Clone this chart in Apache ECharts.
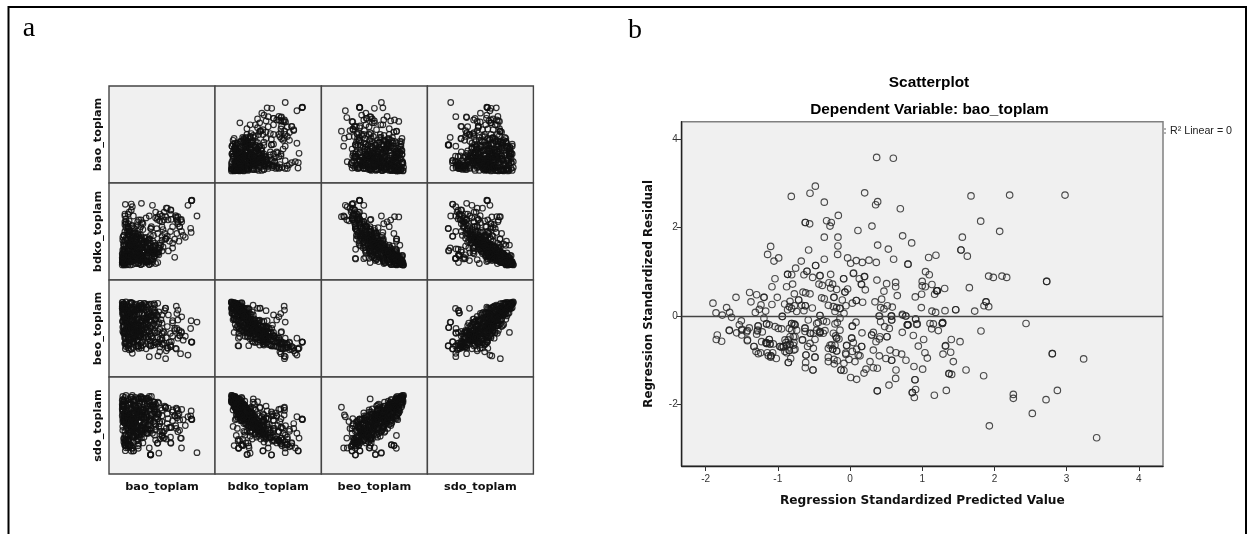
<!DOCTYPE html>
<html><head><meta charset="utf-8">
<style>html,body{margin:0;padding:0;background:#fff}#c{width:1253px;height:534px}</style>
<script src="https://cdn.jsdelivr.net/npm/echarts@6/dist/echarts.min.js"></script>
</head><body><div id="c"></div>
<script>
const variableNames = ['bao_toplam','bdko_toplam','beo_toplam','sdo_toplam'];
const bao = [
83,78,77.7,78.2,74.5,67.5,68.4,66.6,64,65,
65,63.5,50,53.4,46.2,47.8,62.9,55.7,66.7,58.8,
68.2,52.5,33.6,43,21,21,21.2,13,30.5,41.5,
53.2,53.4,21,15.4,22,39.3,39.5,27.4,27.6,17.9,
18.2,58.2,58.4,45.6,63.5,65,30.6,41,38,18,
16,15,18,39,39.3,47,23,23.2,20,20.2,
22,18,18.2,16,28,77,77.5,68.6,62,35.5,
42.6,33.3,55,58,60,62,50,56,60,64,
48,52,58,70,66,72,44,50,55,60,
14,24,13,33,19,28,12.5,37,16,26,13,21,30,15,40,23,12.5,18,31,14,22,13,27,17,35,20,14,25,12.5,29,
13,19,27,15,35,22,16,43,14,30,20,13,26,38,17,12.5,24,32,18,21,15,29,16,23,41,14,19,25,13,33,
17,23,14,31,46,20,13,36,26,18,15,40,21,28,14,49,24,19,33,13,22,16,38,27,18,44,14,30,20,25,
16,28,21,13,37,24,18,47,32,14,26,17,42,20,13,35,23,30,15,50,19,39,14,27,22,16,33,25,44,18,
20,32,15,26,14,41,23,18,48,29,14,36,21,27,17,45,13,31,24,38,18,30,14,43,22,35,16,25,51,19,
17,29,22,39,15,50,26,19,34,14,24,43,18,31,14,37,21,52,28,16,32,20,46,15,25,40,18,30,23,14,
21,35,16,27,48,15,40,23,30,54,18,32,25,44,15,37,20,29,51,22,33,16,26,46,19,39,24,31,15,42,
24,38,18,30,50,21,57,27,35,17,43,23,32,19,47,28,39,16,54,26,
24,18,31,15,27,36,20,14,33,22,29,16,38,25,13,34,19,42,23,28,17,32,21,14,37,26,15,30,44,19,35,23,13,28,18,40,25,16,31,21,
26,38,22,44,30,35,24,41,28,33,36,23,43,31,27,39,21,46,34,29,25,37,42,32,20,45,28,35,23,40,30,47,26,38,22,34,43,29,36,24];
const bdko = [
66,82,81.8,82.2,77,62,50,55,61.8,65.3,
58,65,55,65.3,65,61,66.3,62,55,62.5,
62.5,48,25.4,35.8,25,18.5,19,18,24,40,
42,42.5,78.3,78,75.5,53,53.2,31.7,22.3,23.2,
21.7,72,72.2,62.5,63.6,60,79,77,66,32,
22.3,18,22,30,30.5,33,45,45.2,25,25,
22,26,26.2,20,36,53.3,49,60,23.4,18,
24,20,45,50,38,42,60,30,55,48,
68,70,68,46,40,44,70,66,74,33,
16,24,18,30,21,17,27,19,15.5,32,20,26,16,23,17,29,15.5,21,25,18,16,22,28,25,19,15.5,31,17,23,20,
22,31,17,27,19,36,18,25,29,16,33,21,26,16,24,18,35,17,30,20,16,28,23,34,19,15.5,32,24,27,21,
20,34,17,40,27,37,18,31,42,16,30,22,41,18,25,36,21,19,28,44,38,26,16,33,23,29,19,46,24,35,
26,20,43,31,38,22,47,29,36,18,45,24,34,49,21,40,27,33,19,41,48,20,37,28,44,25,39,23,17,46,
35,24,50,29,46,21,41,54,33,52,26,44,19,48,31,53,22,38,27,42,55,23,36,30,47,20,43,28,34,51,
32,27,56,38,60,30,24,52,43,35,49,28,58,34,46,41,36,62,25,54,37,50,29,57,33,55,26,44,48,31,
40,34,60,47,38,66,30,54,62,43,50,58,36,64,68,33,45,28,52,56,39,63,42,48,61,35,53,59,31,46,
48,42,68,55,45,72,40,60,64,50,38,66,52,70,36,62,46,58,74,56,
28,35,22,41,31,26,38,24,44,33,21,36,29,43,25,34,40,27,23,37,42,30,24,39,28,45,32,20,35,26,33,25,41,22,37,29,44,31,19,36,
24,30,37,27,41,33,20,35,46,29,22,39,31,26,44,28,36,18,33,42,25,38,30,21,47,27,34,40,23,32,43,26,35,19,38,30,24,41,28,36];
const beo = [
56.6,36,36.3,35.8,22.6,24,45.6,42.4,65.4,69,
58.8,73,64,18.9,21.7,26,29.6,29.6,43,36.4,
46.7,68.4,76,74,76.6,76,76.2,75,74,70.8,
70.8,71,28.9,29,24.4,32,32.2,32.3,32,41.6,
32.3,31.4,31.4,34,28.9,40,30,40,21,50,
45,46,40,51,51,56.4,36.4,36.2,66,66.2,
70.7,68.4,68.6,70.8,46,50,58,62,50,60,
75.5,75.5,52,45,56,48,38,64,42,50,
31,35,33,38,48,42,36,40,30,58,
75,72,77,70.5,76,73,71,74,77.5,70,74,71,76,72.5,75,70,77,73.5,71.5,75.5,76.5,73,70.5,72,74.5,77,71,75,73,76,
68,65,71,66,69,64,70,67,66.5,71.5,65,69.5,64.5,68.5,66,71,67,70,64,69,70.5,66.5,68,64,67.5,71,65.5,69,66,63.5,
62,59,65,58,63,60,64,61,58.5,66,60,63.5,58,65,61.5,59,62.5,64.5,60.5,57,58,61,65.5,59.5,63,60,64,57.5,62,59,
56,59,53,57,54,58,52,55,53.5,59.5,52.5,57.5,55,51.5,58,54.5,56.5,53,59,55.5,52,58.5,54,56,51,57,53,55,59,52,
51,53,47,50,46,52,48.5,53.5,49,46.5,52,48,54,47,50.5,45.5,51.5,49.5,53,47.5,46,50,52.5,48,45,51,49,53,47,50,
46,47,42,44,40,45,47.5,41,43,46.5,42.5,45.5,40.5,47,44.5,41.5,43.5,46,48,39.5,44,41,47,40,45,42,48,43,39,46,
40,41,36,38,39,35,41.5,37,34.5,40.5,38.5,36.5,41,35.5,34,39.5,37.5,42,33.5,36,40,35,38,41,34,37,39,36,42,33,
35,33,30,32,34,28.5,36,31,29,33.5,35.5,30.5,33,28,36,29.5,34.5,31.5,27,32,
64,55,71,48,60,67,52,73,46,58,69,54,62,47,66,56,50,63,70,53,49,61,68,51,65,45,57,72,53,64,59,66,47,70,55,62,46,60,74,52,
70,62,51,66,45,57,74,54,42,60,72,47,59,65,43,63,50,76,55,44,68,48,61,73,40,64,52,46,71,58,41,67,53,75,49,60,69,44,63,56];
const sdo = [
22,56.5,56.7,56,59,37,26.8,45,67,65.5,
60,68,60,68.8,60.8,54,49.8,57,55.7,48,
36.8,70,78,74,79,77,79.3,77,77,74.6,
68.4,68.6,23.7,24,26.8,19.6,19.8,29,26.5,34.4,
34.2,32.3,31.6,31.6,47,43.6,37,42,26.8,27,
27,29.3,35.6,20,20.2,21.5,23.7,24,30,30.2,
26.5,29.3,29.5,39.7,77.4,60,65,66.5,60,70,
74,72,62,48,66,60,44,68,55,58,
36,44,38,56,62,50,46,40,52,64,
74,62,80,58,71,66,60,78,81,68,65,57,79,63,80,59,76,72,61,69,81,70,64,56,77,74,60,79,67,73,
70,56,78,52,68,60,75,64,58,80,54,66,61,74,55,72,63,77,51,67,79,53,65,57,71,76,50,69,62,59,
66,48,74,46,62,52,72,58,50,77,44,60,49,70,55,68,47,73,57,45,53,64,76,43,65,51,71,48,59,54,
58,70,46,54,42,66,40,62,48,74,41,60,69,50,64,47,44,67,56,39,45,57,72,43,55,63,38,66,49,61,
52,66,40,58,37,70,48,62,44,38,55,42,68,36,50,64,57,41,65,46,35,60,53,67,39,61,47,71,43,51,
48,62,38,54,35,66,58,42,46,36,52,40,60,64,33,44,56,37,61,34,50,57,32,63,39,47,36,59,41,55,
44,56,34,42,52,30,58,40,48,36,46,32,55,35,31,51,43,60,37,47,53,29,41,57,33,45,38,50,32,54,
38,50,30,44,54,29,48,35,42,32,52,33,45,28,49,31,55,36,47,34,
70,60,74,54,65,72,58,76,51,62,73,57,67,53,69,63,55,71,75,59,52,66,72,56,70,50,61,78,58,68,64,71,49,77,60,67,48,63,79,55,
68,56,48,72,44,60,76,62,40,66,78,50,64,58,42,70,54,74,52,46,71,46,67,63,43,59,55,49,77,61,45,73,57,80,47,65,69,41,75,53];

const predictedValue = [
.369,.6,-.48,-.554,-.813,.203,.383,.355,.697,-.356,
-.162,-.324,-.259,-.277,-.619,-.619,-.559,.304,.11,-.356,
-.167,-.167,.729,.854,.383,.531,-.573,-1.099,-1.141,-1.053,
-.988,-.171,-.356,-.675,-.033,.009,.087,.17,.263,.364,
.604,.803,.803,1.089,1.19,-.476,-.476,-.753,-.864,-.864,
-.808,-.596,-.596,-.638,-.416,-.416,-.268,-.517,.05,.203,
.129,-.088,-.088,1.046,1.098,-1.039,-1.081,-.878,-.795,-.43,
-.384,-.291,-.241,-.268,-.185,-.033,-.07,-.07,.156,.212,
.373,.507,.632,.632,.47,.655,1,1,1.043,1.135,
1.2,1.2,1.172,.992,.904,.438,.346,.087,.087,.175,
.032,-.107,-.222,-.222,-.393,-.356,-.771,-.651,-.614,-.554,
-1.579,-1.39,-1.293,-1.191,-1.191,-1.007,-1.372,-1.898,-1.709,-1.667,
-1.856,-1.769,-1.64,-1.081,-1.233,-1.256,-1.168,-1.311,-.905,-.831,
-.711,-.711,-.84,-.771,-.864,-.808,-.67,-.619,-.619,-.522,
-.638,-.739,-.3,-.231,-.185,-.139,-.139,-.056,-.208,-.083,
.424,.47,.517,.586,.988,1.135,1.186,.729,.775,.41,
.577,-.938,-.938,-.416,-.416,1.676,2.211,2.978,1.81,2.073,
1.556,1.537,1.537,1.625,1.92,1.985,2.105,2.17,2.724,2.724,
1.653,1.311,1.21,1.21,1.884,1.884,1.856,1.921,1.727,1.464,
1.464,1.316,2.438,1.279,1.279,1.154,1.108,1.131,1.223,1.814,
1.403,1.524,1.32,1.394,1.288,1.431,2.802,2.802,3.236,1.607,
1.851,1.371,1.371,1.408,1.334,1.168,2.262,2.262,2.872,2.715,
2.525,1.93,3.416,-1.505,-1.533,-1.496,-1.57,-1.5,-1.672,-1.838,
-1.852,-1.778,-1.422,-1.432,-1.395,-1.275,-1.284,-1.293,-1.215,-1.192,
-1.155,-1.155,-1.118,-1.039,-.947,-1.33,-1.33,-1.302,-1.238,-1.224,
-1.155,-1.155,-1.118,-1.118,-1.062,-1.131,-1.071,-1.099,-1.021,-.97,
-.97,-.924,-.924,-.854,-.785,-.887,-.831,-.831,-.776,-.901,
-.841,-.841,-.762,-.822,-.854,-.854,-.808,-.808,-.776,-.841,
-.739,-.624,-.661,-.554,-.578,-.462,-.416,-.416,-.37,-.485,
-.554,-.587,-.508,-.61,-.61,-.485,-.485,-.614,-.619,-.513,
-.513,-.324,-.208,-.139,-.231,-.185,-.185,-.153,-.3,-.254,
-.24,-.24,-.185,-.185,-.3,-.222,-.3,-.218,-.176,-.125,
-.125,-.084,-.084,-.014,-.056,-.047,.023,.023,.046,.032,
.092,.161,.161,.138,.069,.009,.092,.032,.032,.083,
.166,.3,.3,.323,.415,.36,.406,.512,.512,.48,
.544,.577,.577,.424,.323,.406,.498,.554,.577,.577,
.637,.715,.775,.277,.323,.378,.221,.194,.637,.632,
.54,.378,.378,.724,.794,.794,.909,.909,.932,.877,
1.02,.946,1.038,1.071,.886,1.006,.9,.9,.909,.863,
.863,.891,1.283,1.283,1.325,-.439,-.37,-.176,-.139,-.416,
-.416,-.346,-.199,-.277,-.208,-.046,-.06,.115,.401,.572,
.572,.725,.771,.803,.803,.923,-.993,-.762,-.762,-.808,
-.623,-.462,-.623,-.545,-.508,-.656,-.831,-.762,-.9,-.877,
-.877,-.784,-.946,-.776,-.877,-1.163,-1.163,-1.108,-1.108,-1.145,
-1.094,-1.094,-1.27,-1.42,-1.671,-1.5,-1.42,-1.27,-1.279,.198,
.046,.161];
const standardizedResidual = [
3.58,3.56,2.93,2.77,2.7,2.78,2.58,2.51,2.42,2.57,
2.27,2.15,2.11,2.03,2.11,2.11,2.08,2.03,1.93,1.78,
1.78,1.58,1.81,1.65,1.6,1.51,1.49,1.57,1.39,1.24,
1.31,1.39,1.28,1.24,1.31,1.19,1.25,1.21,1.26,1.21,
1.28,1.17,1.17,1.32,1.37,1.14,1.14,1.08,.94,.94,
.93,1.01,1.01,.93,.91,.91,.94,.87,.97,.89,
.84,.84,.84,1,.93,.84,.66,.66,.72,.72,
.69,.75,.72,.63,.6,.61,.54,.54,.72,.59,
.81,.73,.76,.66,.56,.46,.78,.68,.66,.71,
.57,.57,.49,.49,.43,.38,.32,.35,.35,.31,
.29,.36,.42,.42,.41,.39,.5,.54,.52,.5,
.42,.53,.48,.42,.42,.42,.32,.29,.19,.08,
.07,.02,-.03,.26,.25,.15,.11,.08,.27,.33,
.36,.36,.21,.23,.14,.17,.24,.23,.23,.18,
.12,.1,.24,.21,.19,.17,.17,.23,.1,.06,
.19,.16,.23,.2,.19,.11,.08,.02,0,0,
0,-.01,-.01,.01,.01,2.71,2.73,2.73,2.14,1.91,
1.78,1.49,1.49,1.35,.9,.87,.9,.87,.78,.78,
.64,.62,.57,.57,.32,.32,.23,.21,.11,.14,
.14,.12,-.17,-.17,-.17,-.18,-.17,-.29,-.33,-.34,
-.53,-.58,-.68,-.82,-.86,-1.03,-.85,-.85,-.97,-1.22,
-1.35,-1.3,-1.3,-1.32,-1.68,-1.79,-1.77,-1.86,-1.68,-1.89,
-2.2,-2.48,-2.75,-.11,-.2,-.3,-.38,-.43,-.33,-.43,
-.53,-.57,-.56,-.36,-.27,-.23,-.34,-.41,-.36,-.05,
-.18,-.18,-.2,-.24,-.29,-.69,-.69,-.8,-.83,-.58,
-.62,-.62,-.53,-.53,-.63,-.9,-.83,-.93,-.96,-.69,
-.69,-.69,-.69,-.54,-.47,-.6,-.64,-.64,-.6,-.8,
-.78,-.78,-.75,-.96,-1.05,-1.05,-.17,-.17,-.18,-.28,
-.32,-.28,-.54,-.39,-.09,-.32,-.38,-.38,-.39,-.53,
-.62,-.69,-.73,-.88,-.88,-.93,-.93,-1.05,-1.17,-1.22,
-1.22,-.13,-.18,-.32,-.39,-.5,-.5,-.52,-.73,-.65,
-.75,-.75,-.79,-.79,-.93,-.98,-1.03,-1.08,-1.01,-1.22,
-1.22,-1.23,-1.07,-.98,-.87,-.67,-.5,-.5,-.6,-.8,
-.75,-.69,-.69,-.9,-1.03,-1.39,-1.43,-.23,-.23,-.14,
-.38,-.43,-.43,-.37,-.47,-.58,-.52,-.47,-.47,-.24,
-.28,-.09,-.09,-.13,-.77,-.9,-.96,-.77,-1,-1,
-.83,-.86,-1,-1.03,-1.17,-1.18,-1.2,-1.29,-1.22,-1.41,
-1.56,-1.69,-1.69,-.37,-.2,-.2,-.07,-.07,-.18,-.44,
-.53,-.68,-.83,-.95,-1.14,-1.2,-1.44,-1.44,-1.66,-1.73,
-1.73,-1.84,-.15,-.15,-.67,-.15,-.11,-.15,-.05,-.35,
-.35,-.33,-.45,-.66,-.66,-.66,-.84,-.88,0,0,
0,.04,0,-.2,-.2,-.19,-.28,-.2,-.2,-.32,
-.27,-.17,-.35,-.39,-.39,-.54,-.47,-.47,-.54,-.66,
-.66,-.66,-.71,-.77,-.83,-.6,-.6,-.63,-.63,-.83,
-.9,-.9,-.85,-.54,-.32,-.32,-.33,-.22,-.32,.89,
.96,.71];
const xTicks = [-2,-1,0,1,2,3,4];
const yTicks = [-2,0,2,4];

const columns = [bao, bdko, beo, sdo];
const FONT = '"Liberation Sans", Arial, sans-serif';
const WIDE = '"DejaVu Sans", Verdana, sans-serif';
const colX = [109, 215, 321.4, 427.4], cellW = [106, 106.4, 106, 106];
const rowY = [86, 183, 280, 377], cellH = 97;

const grids = [], xAxes = [], yAxes = [], series = [];
const hollow = {color:'rgba(0,0,0,0)', borderColor:'#111', borderWidth:1.2, opacity:.85};

for (let r = 0; r < 4; r++) for (let c = 0; c < 4; c++) {
  const idx = grids.length;
  grids.push({left:colX[c], top:rowY[r], width:cellW[c], height:cellH, show:true,
    backgroundColor:'#f0f0f0', borderColor:'#444', borderWidth:1.4, containLabel:false});
  const nameStyle = {fontFamily:WIDE, fontWeight:'bold', fontSize:11.3, color:'#111'};
  xAxes.push({type:'value', gridIndex:idx, min:0, max:100, axisLine:{show:false}, axisTick:{show:false},
    axisLabel:{show:false}, splitLine:{show:false},
    name: r===3 ? variableNames[c] : '', nameLocation:'middle', nameGap:8, nameTextStyle:nameStyle});
  yAxes.push({type:'value', gridIndex:idx, min:0, max:100, axisLine:{show:false}, axisTick:{show:false},
    axisLabel:{show:false}, splitLine:{show:false},
    name: c===0 ? variableNames[r] : '', nameLocation:'middle', nameGap:5, nameRotate:90, nameTextStyle:nameStyle});
  if (r !== c) {
    series.push({type:'scatter', xAxisIndex:idx, yAxisIndex:idx, symbol:'circle', symbolSize:5.6,
      silent:true, itemStyle:hollow, animation:false,
      data: columns[c].map((v,i)=>[v, columns[r][i]])});
  }
}

const R = grids.length;
grids.push({left:681.7, top:121.7, width:481.3, height:344.3, show:true,
  backgroundColor:'#f0f0f0', borderColor:'#808080', borderWidth:1.5});
const tickLabel = {fontFamily:FONT, fontSize:10, color:'#333'};
xAxes.push({type:'value', gridIndex:R, min:-2.331, max:4.335, position:'bottom',
  axisLine:{show:true, onZero:false, lineStyle:{color:'#222', width:1.4}},
  axisTick:{show:true, length:5, customValues:xTicks, lineStyle:{color:'#333'}},
  axisLabel:{show:true, customValues:xTicks, margin:8, hideOverlap:false, showMinLabel:true, showMaxLabel:true, ...tickLabel},
  splitLine:{show:false},
  name:'Regression Standardized Predicted Value', nameLocation:'middle', nameGap:29,
  nameTextStyle:{fontFamily:WIDE, fontWeight:'bold', fontSize:12.2, color:'#111'}});
yAxes.push({type:'value', gridIndex:R, min:-3.387, max:4.386, position:'left',
  axisLine:{show:true, onZero:false, lineStyle:{color:'#222', width:1.4}},
  axisTick:{show:true, length:5, customValues:yTicks, lineStyle:{color:'#333'}},
  axisLabel:{show:true, customValues:yTicks, margin:4, ...tickLabel},
  splitLine:{show:false},
  name:'Regression Standardized Residual', nameLocation:'middle', nameGap:27, nameRotate:90,
  nameTextStyle:{fontFamily:WIDE, fontWeight:'bold', fontSize:11.8, color:'#111'}});
series.push({type:'scatter', xAxisIndex:R, yAxisIndex:R, symbol:'circle', symbolSize:6.5, silent:true,
  animation:false, itemStyle:{color:'rgba(0,0,0,0)', borderColor:'#222', borderWidth:1.15, opacity:.8},
  data:predictedValue.map((x,i)=>[x, standardizedResidual[i]]),
  markLine:{silent:true, animation:false, symbol:'none', label:{show:false},
    lineStyle:{color:'#444', width:1.3, type:'solid'}, data:[{yAxis:0}]}});

const frame = {type:'polyline', silent:true, z:100,
  shape:{points:[[8.5,534],[8.5,7],[1246,7],[1246,534]]}, style:{stroke:'#000', lineWidth:2, fill:null}};
const textEl = (x,y,t,st) => ({type:'text', x, y, silent:true, z:100,
  style:{text:t, fill:'#000', textAlign:'center', textVerticalAlign:'middle', ...st}});
const chart = echarts.init(document.getElementById('c'), null, {renderer:'canvas'});
chart.setOption({
  animation:false, backgroundColor:'#fff',
  grid:grids, xAxis:xAxes, yAxis:yAxes, series,
  graphic:[frame,
    textEl(29,29,'a',{font:'28px "Liberation Serif", serif'}),
    textEl(635,31,'b',{font:'28px "Liberation Serif", serif'}),
    textEl(929,83,'Scatterplot',{font:'bold 15.4px '+FONT}),
    textEl(929.5,110,'Dependent Variable: bao_toplam',{font:'bold 15.4px '+FONT}),
    textEl(1201,131,'R² Linear = 0',{font:'10.7px '+FONT, fill:'#222'}),
    {type:'line', silent:true, z:100, shape:{x1:1165,y1:128,x2:1165,y2:134}, style:{stroke:'#666',lineWidth:1,lineDash:[2,2]}}
  ]
});
</script></body></html>
